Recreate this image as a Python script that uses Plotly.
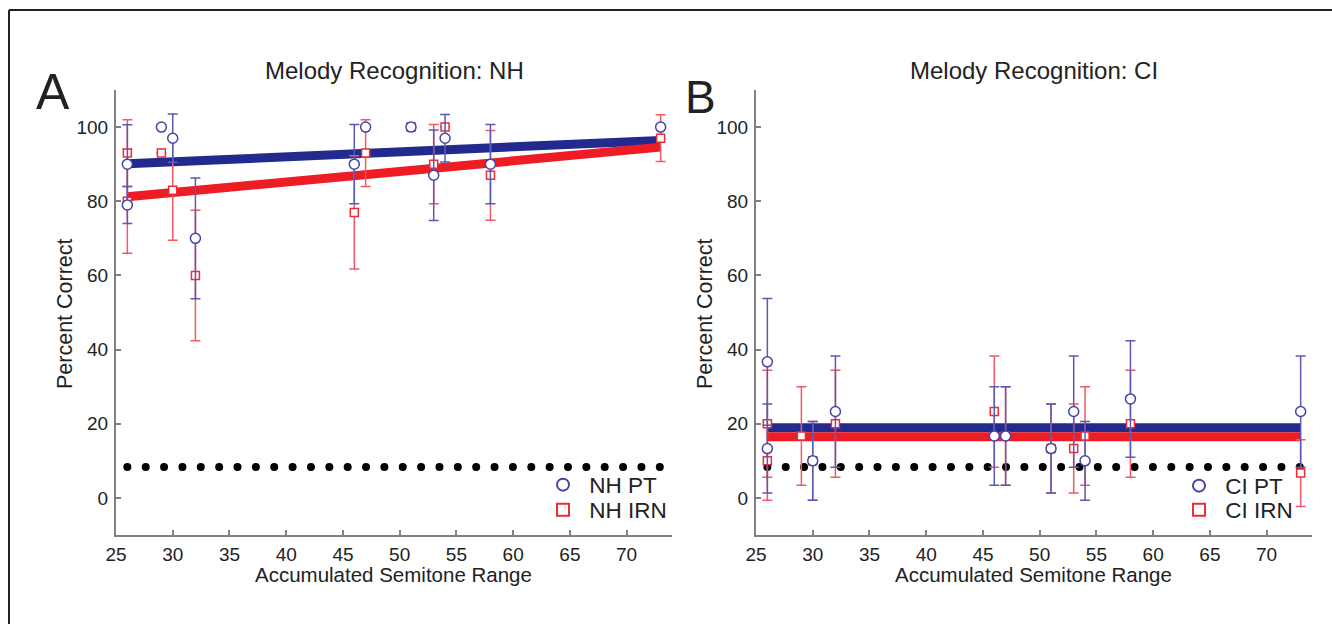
import plotly.graph_objects as go

# ---------------- data ----------------
semitone = [26, 26, 29, 30, 32, 46, 47, 51, 53, 54, 58, 73]

nh_pt = [90, 79, 100, 97, 70, 90, 100, 100, 87, 97, 90, 100]
nh_pt_err = [10.6, 5, 0, 6.5, 16.3, 10.7, 0, 0, 12.2, 6.4, 10.7, 0]
nh_irn = [93, 80, 93, 83, 60, 77, 93, 100, 90, 100, 87, 97]
nh_irn_err = [9, 14, 0, 13.5, 17.6, 15.3, 9, 0, 10.7, 0, 12.1, 6.3]

ci_pt = [36.7, 13.3, None, 10, 23.3, 16.7, 16.7, 13.3, 23.3, 10, 26.7, 23.3]
ci_pt_err = [17.1, 12, 0, 10.6, 15, 13.3, 13.3, 12, 15, 10.6, 15.7, 15]
ci_irn = [20, 10, 16.7, 10, 20, 23.3, 16.7, 13.3, 13.3, 16.7, 20, 6.7]
ci_irn_err = [14.4, 10.6, 13.3, 10.6, 14.4, 15, 13.3, 12, 12, 13.3, 14.4, 9]

fit_x = [26, 73]
fit_nh_pt = [90.1, 96.4]
fit_nh_irn = [81.2, 94.6]
fit_ci_pt = [18.9, 18.9]
fit_ci_irn = [16.5, 16.5]

chance_x = [26, 73]
chance_level = [100 / 12, 100 / 12]

x_ticks = [25, 30, 35, 40, 45, 50, 55, 60, 65, 70]
y_ticks = [0, 20, 40, 60, 80, 100]

# ---------------- style ----------------
W, H = 1332, 624
BLUE_LINE = "#232A8E"
RED_LINE = "#EE1C25"
BLUE_MK = "#4444A6"
RED_MK = "#EC2C38"
BLUE_ERR = "#5A5AB4"
RED_ERR = "#F25A64"
AXIS = "#808080"
TXT = "#222222"
FONT = "Liberation Sans, Arial, sans-serif"
LEG_FONT = dict(family=FONT, size=22.5, color=TXT)

fig = go.Figure()


def add_panel(xa, ya, pt, pt_err, irn, irn_err, fpt, firn, names, legs):
    fig.add_trace(go.Scatter(x=fit_x, y=fpt, mode="lines", xaxis=xa, yaxis=ya,
                             line=dict(color=BLUE_LINE, width=9), showlegend=False, hoverinfo="skip"))
    fig.add_trace(go.Scatter(x=fit_x, y=firn, mode="lines", xaxis=xa, yaxis=ya,
                             line=dict(color=RED_LINE, width=9), showlegend=False, hoverinfo="skip"))
    fig.add_trace(go.Scatter(x=chance_x, y=chance_level, mode="lines", xaxis=xa, yaxis=ya,
                             line=dict(color="black", width=8, dash="0px,18.36px"),
                             showlegend=False, hoverinfo="skip"))
    fig.add_trace(go.Scatter(x=semitone, y=irn, mode="markers", xaxis=xa, yaxis=ya,
                             name=names[1], legend=legs[1],
                             marker=dict(symbol="square", size=8, color="white",
                                         line=dict(color=RED_MK, width=1.5)),
                             error_y=dict(type="data", array=irn_err, visible=True,
                                          color=RED_ERR, thickness=1.5, width=5)))
    fig.add_trace(go.Scatter(x=semitone, y=pt, mode="markers", xaxis=xa, yaxis=ya,
                             name=names[0], legend=legs[0],
                             marker=dict(symbol="circle", size=10, color="white",
                                         line=dict(color=BLUE_MK, width=1.5)),
                             error_y=dict(type="data", array=pt_err, visible=True,
                                          color=BLUE_ERR, thickness=1.5, width=5)))


add_panel("x", "y", nh_pt, nh_pt_err, nh_irn, nh_irn_err, fit_nh_pt, fit_nh_irn,
          ["\u00a0NH PT", "\u00a0NH IRN"], ["legend", "legend2"])
add_panel("x2", "y2", ci_pt, ci_pt_err, ci_irn, ci_irn_err, fit_ci_pt, fit_ci_irn,
          ["\u00a0CI PT", "\u00a0CI IRN"], ["legend3", "legend4"])

y0 = 1 - 535 / H
y1 = 1 - 90 / H

axis_common = dict(showline=True, linecolor=AXIS, linewidth=2, ticks="inside", ticklen=5,
                   tickcolor=AXIS, tickwidth=1.5, showgrid=False, zeroline=False,
                   automargin=False, tickfont=dict(family=FONT, size=19, color=TXT))


def leg(xpx, ypx):
    return dict(x=xpx / W, y=1 - ypx / H, xanchor="left", yanchor="middle",
                bgcolor="rgba(0,0,0,0)", font=LEG_FONT, itemsizing="constant",
                borderwidth=0)


fig.update_layout(
    width=W, height=H, autosize=False,
    margin=dict(l=0, r=0, t=0, b=0, pad=0, autoexpand=False),
    paper_bgcolor="white", plot_bgcolor="white",
    font=dict(family=FONT, color=TXT),
    xaxis=dict(domain=[116 / W, 672 / W], range=[25, 74], tickvals=x_ticks, anchor="y",
               ticklabelstandoff=1, **axis_common),
    yaxis=dict(domain=[y0, y1], range=[-10, 110], tickvals=y_ticks, anchor="x",
               ticklabelstandoff=2, **axis_common),
    xaxis2=dict(domain=[756 / W, 1312 / W], range=[25, 74], tickvals=x_ticks, anchor="y2",
                ticklabelstandoff=1, **axis_common),
    yaxis2=dict(domain=[y0, y1], range=[-10, 110], tickvals=y_ticks, anchor="x2",
                ticklabelstandoff=2, **axis_common),
    legend=leg(543, 485),
    legend2=leg(543, 510),
    legend3=leg(1179, 486),
    legend4=leg(1179, 510),
)

ann = []


def text(x, y, s, size, angle=0):
    ann.append(dict(x=x / W, y=1 - y / H, xref="paper", yref="paper", text=s, showarrow=False,
                    xanchor="center", yanchor="middle", textangle=angle,
                    font=dict(family=FONT, size=size, color=TXT)))


text(394, 70, "Melody Recognition: NH", 24)
text(1034, 70, "Melody Recognition: CI", 24)
text(53, 92, "A", 50)
text(700, 97, "B", 46)
text(65, 314, "Percent Correct", 21.5, -90)
text(705, 314, "Percent Correct", 21.5, -90)
text(393, 574, "Accumulated Semitone Range", 20.5)
text(1033, 574, "Accumulated Semitone Range", 20.5)
fig.update_layout(annotations=ann)

fig.add_shape(type="line", xref="paper", yref="paper", x0=9 / W, x1=1, y0=1 - 10 / H, y1=1 - 10 / H,
              line=dict(color="#222222", width=2))
fig.add_shape(type="line", xref="paper", yref="paper", x0=9 / W, x1=9 / W, y0=0, y1=1 - 10 / H,
              line=dict(color="#222222", width=2))

post = """
document.documentElement.style.margin = '0';
document.documentElement.style.overflow = 'hidden';
document.body.style.margin = '0';
document.body.style.padding = '0';
document.body.style.overflow = 'hidden';
document.querySelectorAll('path.js-line').forEach(function(p){
  var d = p.style.strokeDasharray || '';
  if (d.indexOf('18.36') >= 0) { p.style.strokeLinecap = 'round'; }
});
"""

fig.write_html("out.html", post_script=post)
